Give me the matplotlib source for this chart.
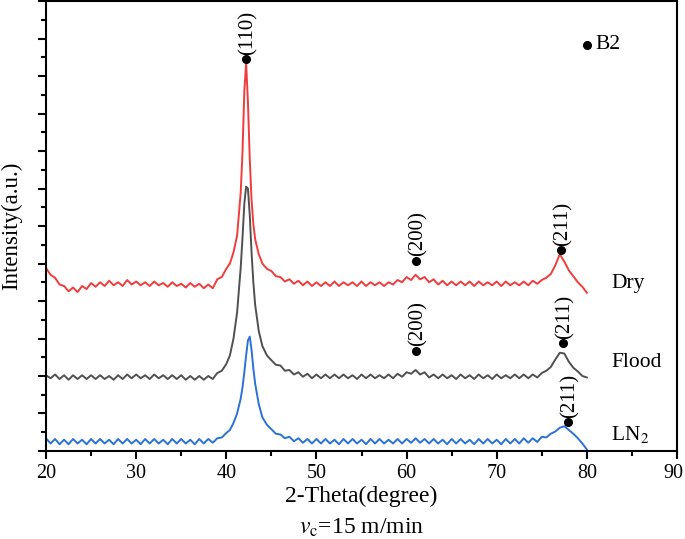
import matplotlib
matplotlib.use("Agg")
import matplotlib.pyplot as plt
from matplotlib.ticker import MultipleLocator, NullFormatter

plt.rcParams['font.family'] = ['Liberation Serif', 'DejaVu Serif']
plt.rcParams['mathtext.fontset'] = 'stix'

# 2-theta sample positions (degree)
two_theta = [20.0, 20.5, 21.0, 21.5, 22.0, 22.5, 23.0, 23.5, 24.0, 24.5,
             25.0, 25.5, 26.0, 26.5, 27.0, 27.5, 28.0, 28.5, 29.0, 29.5,
             30.0, 30.5, 31.0, 31.5, 32.0, 32.5, 33.0, 33.5, 34.0, 34.5,
             35.0, 35.5, 36.0, 36.5, 37.0, 37.5, 38.0, 38.5, 39.0, 39.5,
             40.0, 40.4, 40.8, 41.2, 41.6, 41.8, 42.0, 42.2, 42.4, 42.6,
             42.8, 43.0, 43.2, 43.6, 44.0, 44.5, 45.0, 45.5, 46.0, 46.5,
             47.0, 47.5, 48.0, 48.5, 49.0, 49.5, 50.0, 50.5, 51.0, 51.5,
             52.0, 52.5, 53.0, 53.5, 54.0, 54.5, 55.0, 55.5, 56.0, 56.5,
             57.0, 57.5, 58.0, 58.5, 59.0, 59.5, 60.0, 60.5, 61.0, 61.5,
             62.0, 62.5, 63.0, 63.5, 64.0, 64.5, 65.0, 65.5, 66.0, 66.5,
             67.0, 67.5, 68.0, 68.5, 69.0, 69.5, 70.0, 70.5, 71.0, 71.5,
             72.0, 72.5, 73.0, 73.5, 74.0, 74.5, 75.0, 75.5, 76.0, 76.5,
             77.0, 77.5, 78.0, 78.5, 79.0, 79.5, 80.0]

# intensity (a.u., stacked)
dry = [4.88, 4.70, 4.62, 4.44, 4.40, 4.26, 4.36, 4.24, 4.40, 4.32,
       4.48, 4.38, 4.50, 4.40, 4.54, 4.42, 4.50, 4.40, 4.56, 4.44,
       4.52, 4.42, 4.50, 4.40, 4.52, 4.42, 4.48, 4.38, 4.50, 4.40,
       4.46, 4.36, 4.48, 4.38, 4.46, 4.34, 4.44, 4.34, 4.58, 4.64,
       4.86, 5.00, 5.30, 5.75, 6.90, 8.00, 9.60, 10.35, 9.30, 7.80,
       6.70, 6.05, 5.65, 5.25, 5.00, 4.86, 4.80, 4.66, 4.64, 4.52,
       4.58, 4.46, 4.54, 4.42, 4.52, 4.40, 4.50, 4.40, 4.50, 4.40,
       4.52, 4.40, 4.50, 4.42, 4.50, 4.40, 4.52, 4.40, 4.50, 4.42,
       4.50, 4.40, 4.50, 4.44, 4.56, 4.50, 4.64, 4.56, 4.70, 4.58,
       4.64, 4.50, 4.58, 4.44, 4.54, 4.42, 4.52, 4.42, 4.52, 4.42,
       4.52, 4.40, 4.52, 4.42, 4.50, 4.42, 4.52, 4.40, 4.52, 4.42,
       4.50, 4.42, 4.52, 4.42, 4.54, 4.46, 4.56, 4.62, 4.72, 4.95,
       5.25, 5.05, 4.82, 4.66, 4.50, 4.38, 4.22]

flood = [2.02, 1.94, 2.04, 1.92, 2.02, 1.90, 2.02, 1.92, 2.02, 1.92,
         2.02, 1.92, 2.02, 1.92, 2.00, 1.90, 2.02, 1.92, 2.04, 1.94,
         2.04, 1.94, 2.02, 1.92, 2.04, 1.94, 2.02, 1.92, 2.02, 1.92,
         2.02, 1.90, 2.00, 1.90, 2.00, 1.90, 2.00, 1.92, 2.08, 2.14,
         2.32, 2.55, 3.00, 3.70, 4.90, 5.70, 6.60, 7.05, 7.00, 6.30,
         5.30, 4.50, 3.90, 3.20, 2.80, 2.55, 2.42, 2.30, 2.28, 2.14,
         2.16, 2.04, 2.10, 1.98, 2.06, 1.94, 2.04, 1.94, 2.04, 1.94,
         2.04, 1.94, 2.04, 1.94, 2.02, 1.92, 2.04, 1.94, 2.04, 1.94,
         2.02, 1.94, 2.04, 1.94, 2.06, 1.98, 2.10, 2.06, 2.16, 2.04,
         2.10, 1.96, 2.04, 1.94, 2.04, 1.94, 2.02, 1.92, 2.04, 1.94,
         2.02, 1.92, 2.04, 1.94, 2.02, 1.92, 2.04, 1.94, 2.02, 1.94,
         2.04, 1.94, 2.04, 1.94, 2.04, 1.96, 2.08, 2.14, 2.24, 2.44,
         2.62, 2.60, 2.38, 2.22, 2.12, 2.00, 1.96]

ln2 = [0.34, 0.20, 0.32, 0.18, 0.30, 0.18, 0.32, 0.20, 0.30, 0.18,
       0.32, 0.20, 0.32, 0.20, 0.30, 0.18, 0.32, 0.20, 0.32, 0.20,
       0.30, 0.18, 0.32, 0.20, 0.32, 0.20, 0.30, 0.18, 0.32, 0.20,
       0.32, 0.20, 0.30, 0.18, 0.32, 0.20, 0.32, 0.22, 0.34, 0.36,
       0.48, 0.56, 0.75, 1.00, 1.40, 1.70, 2.10, 2.55, 2.95, 3.05,
       2.70, 2.20, 1.80, 1.25, 0.90, 0.70, 0.58, 0.46, 0.44, 0.34,
       0.38, 0.26, 0.34, 0.22, 0.32, 0.20, 0.32, 0.20, 0.32, 0.20,
       0.30, 0.18, 0.32, 0.20, 0.32, 0.20, 0.30, 0.18, 0.32, 0.20,
       0.32, 0.20, 0.30, 0.20, 0.32, 0.20, 0.32, 0.22, 0.34, 0.22,
       0.32, 0.20, 0.32, 0.20, 0.30, 0.18, 0.32, 0.20, 0.32, 0.20,
       0.30, 0.18, 0.32, 0.20, 0.32, 0.20, 0.30, 0.18, 0.32, 0.20,
       0.32, 0.20, 0.34, 0.22, 0.34, 0.24, 0.38, 0.36, 0.46, 0.52,
       0.62, 0.66, 0.56, 0.46, 0.34, 0.20, 0.04]

# B2 peak markers: (x, y, label)
peak_x = [42.2, 61.05, 77.13, 61.05, 77.36, 77.9]
peak_y = [10.45, 5.07, 5.36, 2.67, 2.88, 0.77]
peak_lab = ['(110)', '(200)', '(211)', '(200)', '(211)', '(211)']

cond_lab = ['Dry', 'Flood', 'LN$_2$']
cond_y = [4.48, 2.35, 0.45]

xticks = [20, 30, 40, 50, 60, 70, 80, 90]

fig = plt.figure(figsize=(6.85, 5.39), dpi=100)
ax = fig.add_axes([0.0672, 0.1633, 0.9211, 0.8347])

ax.plot(two_theta, dry, color='#f03c3c', lw=1.4)
ax.plot(two_theta, flood, color='#505050', lw=1.4)
ax.plot(two_theta, ln2, color='#2b72d8', lw=1.4)

ax.plot(peak_x, peak_y, 'o', color='black', ms=5.5)
for x, y, t in zip(peak_x, peak_y, peak_lab):
    ax.text(x + 0.2, y + 0.12, t, rotation=90, ha='center', va='bottom', fontsize=15)

for t, y in zip(cond_lab, cond_y):
    ax.text(82.7, y, t, ha='left', va='center', fontsize=15.5)

ax.plot([80.0], [10.83], 'o', color='black', ms=5.5)
ax.text(81.0, 10.83, 'B2', ha='left', va='center', fontsize=15.5)

ax.set_xlim(20, 90)
ax.set_ylim(0, 12)
ax.set_xticks(xticks, [str(v) for v in xticks[:-1]] + [''])
ax.xaxis.set_minor_locator(MultipleLocator(5))
ax.yaxis.set_major_locator(MultipleLocator(1))
ax.yaxis.set_minor_locator(MultipleLocator(0.5))
ax.yaxis.set_major_formatter(NullFormatter())
ax.tick_params(which='both', direction='out', width=1.5, labelsize=14.5)
ax.tick_params(which='major', length=6)
ax.tick_params(which='minor', length=3.5)
for s in ax.spines.values():
    s.set_linewidth(1.5)

# last tick label nudged left so it stays inside the figure
ax.annotate(str(xticks[-1]), xy=(xticks[-1], 0), xycoords=('data', 'axes fraction'),
            xytext=(-2.5, -9.5), textcoords='offset points',
            ha='center', va='top', fontsize=14.5)

ax.set_xlabel('2-Theta(degree)\n$\\mathit{v}_\\mathrm{c}$=15 m/min', fontsize=17,
              labelpad=2, linespacing=1.55)
ax.set_ylabel('Intensity(a.u.)', fontsize=16.5, labelpad=7.5)

fig.savefig('out.png', dpi=100)
